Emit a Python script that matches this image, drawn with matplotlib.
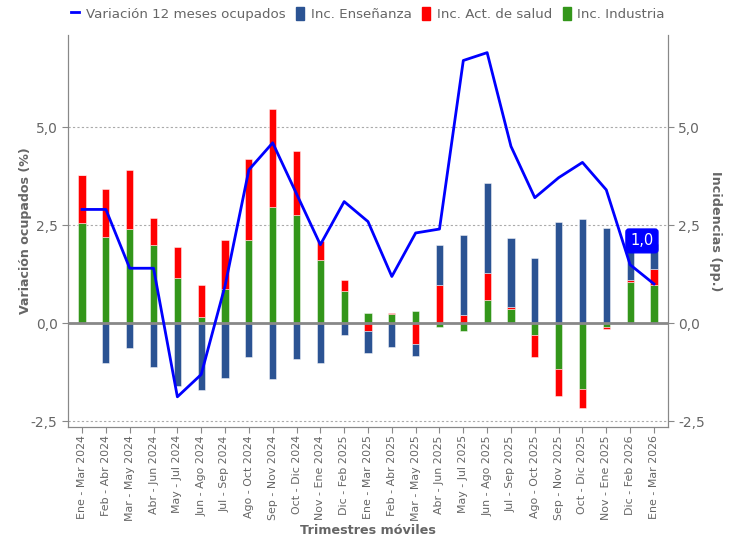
import numpy as np
import matplotlib
matplotlib.use("Agg")
import matplotlib.pyplot as plt
from matplotlib.lines import Line2D
from matplotlib.patches import Patch

categories = ["Ene - Mar 2024", "Feb - Abr 2024", "Mar - May 2024", "Abr - Jun 2024",
              "May - Jul 2024", "Jun - Ago 2024", "Jul - Sep 2024", "Ago - Oct 2024",
              "Sep - Nov 2024", "Oct - Dic 2024", "Nov - Ene 2024", "Dic - Feb 2025",
              "Ene - Mar 2025", "Feb - Abr 2025", "Mar - May 2025", "Abr - Jun 2025",
              "May - Jul 2025", "Jun - Ago 2025", "Jul - Sep 2025", "Ago - Oct 2025",
              "Sep - Nov 2025", "Oct - Dic 2025", "Nov - Ene 2025", "Dic - Feb 2026",
              "Ene - Mar 2026"]

variacion = [2.90, 2.90, 1.40, 1.40, -1.88, -1.31, 0.95, 3.91, 4.60, 3.30, 2.00, 3.10,
             2.59, 1.19, 2.30, 2.40, 6.70, 6.90, 4.51, 3.20, 3.71, 4.10, 3.40, 1.49, 1.00]

industria = [2.56, 2.19, 2.40, 2.00, 1.14, 0.15, 0.87, 2.11, 2.96, 2.75, 1.61, 0.81,
             0.25, 0.23, 0.31, -0.09, -0.19, 0.60, 0.36, -0.30, -1.17, -1.68, -0.09, 1.04, 0.96]
salud = [1.23, 1.22, 1.50, 0.67, 0.80, 0.83, 1.24, 2.08, 2.50, 1.65, 0.48, 0.30,
         -0.20, 0.02, -0.54, 0.98, 0.20, 0.67, 0.05, -0.56, -0.69, -0.49, -0.05, 0.05, 0.41]
ensenanza = [0.0, -1.03, -0.64, -1.12, -1.60, -1.71, -1.41, -0.87, -1.43, -0.92, -1.03, -0.31,
             -0.55, -0.61, -0.31, 1.02, 2.05, 2.30, 1.75, 1.65, 2.58, 2.66, 2.42, 0.95, 0.65]

label_last = "1,0"

GRAY_TXT = "#666666"
C_ENS = "#2b5393"
C_SAL = "#ff0000"
C_IND = "#33961a"
C_LINE = "#0000ff"

fig = plt.figure(figsize=(7.36, 5.46), dpi=100)
ax = fig.add_axes([68/736, 1-427/546, 600/736, 392/546])
ax2 = ax.twinx()

x = np.arange(len(categories))
ylim = (-2.65, 7.35)
width = 0.3

pos_bottom = np.zeros(len(x))
neg_bottom = np.zeros(len(x))
for vals, col in [(industria, C_IND), (salud, C_SAL), (ensenanza, C_ENS)]:
    v = np.array(vals, dtype=float)
    bottoms = np.where(v >= 0, pos_bottom, neg_bottom)
    ax2.bar(x, v, width, bottom=bottoms, color=col, edgecolor=(1, 1, 1, 0.55),
            linewidth=0.6, zorder=2)
    pos_bottom = pos_bottom + np.where(v > 0, v, 0)
    neg_bottom = neg_bottom + np.where(v < 0, v, 0)

ax2.axhline(0, color="#888888", lw=2, zorder=3)
ax2.plot(x, variacion, color=C_LINE, lw=2, zorder=4)
ax2.annotate(label_last, xy=(x[-1], variacion[-1]), xytext=(-12, 43),
             textcoords="offset pixels", ha="center", va="center", color="white",
             fontsize=10.5, zorder=6,
             bbox=dict(boxstyle="round,pad=0.3,rounding_size=0.2", fc=C_LINE, ec=C_LINE))

for a in (ax, ax2):
    a.set_ylim(*ylim)
    a.set_xlim(-0.59, len(x) - 1 + 0.59)
    a.set_yticks([-2.5, 0.0, 2.5, 5.0])
    a.set_yticklabels(["-2,5", "0,0", "2,5", "5,0"])
    a.tick_params(axis="y", colors="#888888", labelcolor=GRAY_TXT, labelsize=10, length=4)
    for s in a.spines.values():
        s.set_color("#888888")
    a.spines["top"].set_visible(False)

ax.set_zorder(ax2.get_zorder() - 1)
ax2.patch.set_visible(False)
for yv in [-2.5, 2.5, 5.0]:
    ax.axhline(yv, color="#aaaaaa", lw=0.8, ls=(0, (2, 2)), zorder=0)

ax.set_xticks(x)
ax.set_xticklabels(categories, rotation=90, fontsize=7.95, color=GRAY_TXT)
ax.tick_params(axis="x", colors="#888888", labelcolor=GRAY_TXT, length=4, pad=2)
ax2.tick_params(axis="x", length=0)

ax.set_ylabel("Variación ocupados (%)", fontsize=9.1, fontweight="bold", color=GRAY_TXT, labelpad=-1)
ax2.set_ylabel("Incidencias (pp.)", fontsize=9.2, fontweight="bold", color=GRAY_TXT,
               rotation=-90, labelpad=12)
ax.set_xlabel("Trimestres móviles", fontsize=9.2, fontweight="bold", color=GRAY_TXT, labelpad=2)

handles = [Line2D([0], [0], color=C_LINE, lw=2),
           Patch(color=C_ENS), Patch(color=C_SAL), Patch(color=C_IND)]
labels = ["Variación 12 meses ocupados", "Inc. Enseñanza", "Inc. Act. de salud", "Inc. Industria"]
leg = fig.legend(handles, labels, loc="center", bbox_to_anchor=(368/736, 1-14/546), ncol=4,
                 frameon=False, fontsize=9.6, handlelength=0.6, handleheight=1.1,
                 handletextpad=0.5, columnspacing=0.8, labelcolor=GRAY_TXT)

fig.savefig("out.png", dpi=100)
